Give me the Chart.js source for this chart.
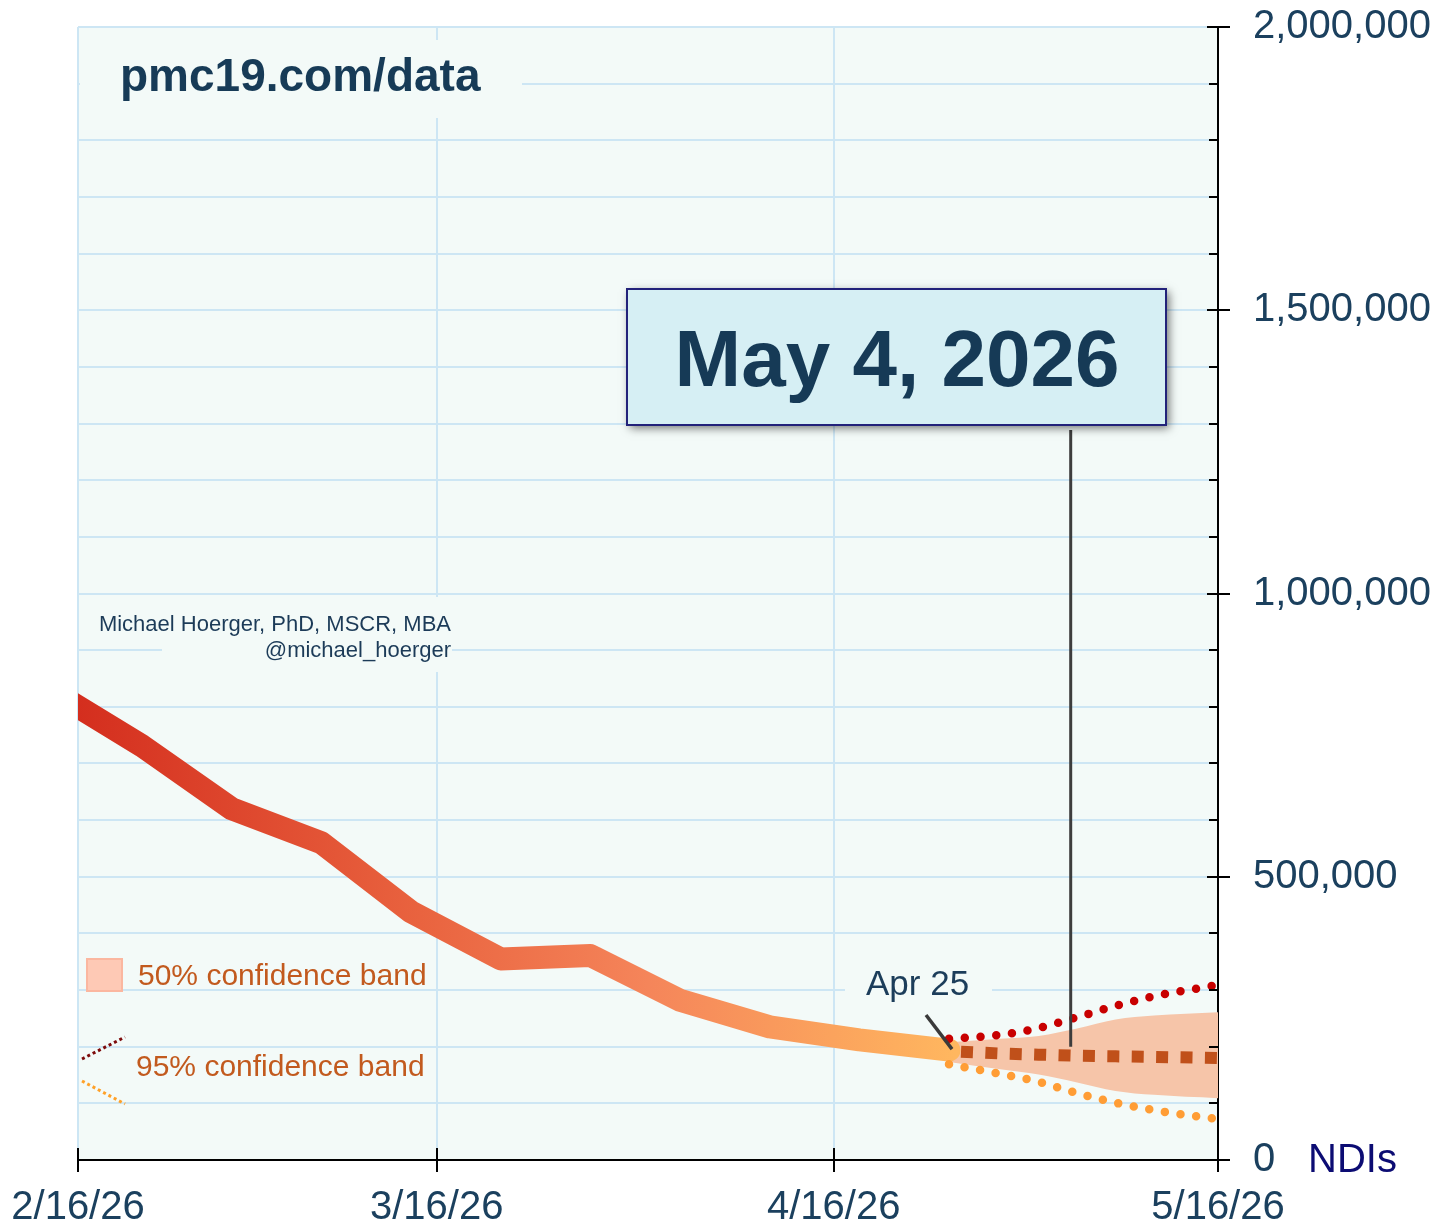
<!DOCTYPE html>
<html>
<head>
<meta charset="utf-8">
<script src="https://cdn.jsdelivr.net/npm/chart.js@4.4.1/dist/chart.umd.min.js"></script>
<style>
html,body{margin:0;padding:0;background:#ffffff;}
canvas{display:block;}
</style>
</head>
<body>
<canvas id="c" width="1452" height="1226"></canvas>
<script>
// ---------------- DATA ----------------
const startDate = '2026-02-16';
const xTickDates = ['2026-02-16', '2026-03-16', '2026-04-16', '2026-05-16'];
const yTickValues = [0, 500000, 1000000, 1500000, 2000000];

const observedDates = ['2026-02-14', '2026-02-21', '2026-02-28', '2026-03-07', '2026-03-14', '2026-03-21',
                       '2026-03-28', '2026-04-04', '2026-04-11', '2026-04-18', '2026-04-25'];
const observedValues = [828000, 731000, 620000, 560000, 438000, 355000, 361000, 282000, 235000, 212000, 194000];

const forecastDates = ['2026-04-25', '2026-04-29', '2026-05-02', '2026-05-05', '2026-05-08', '2026-05-11', '2026-05-16'];
const forecastMedian = [192000, 188000, 186000, 184000, 183000, 182000, 180000];
const band50Upper = [208000, 214000, 219000, 232000, 248000, 255000, 261000];
const band50Lower = [173000, 160000, 151000, 137000, 122000, 115000, 109000];
const band95Upper = [214000, 221000, 233000, 252000, 272000, 289000, 309000];
const band95Lower = [169000, 152000, 138000, 118000, 101000, 88000, 72000];

const highlightDate = '2026-05-04';
const highlightText = 'May 4, 2026';
const lastObservedText = 'Apr 25';
const siteText = 'pmc19.com/data';
const authorLines = ['Michael Hoerger, PhD, MSCR, MBA', '@michael_hoerger'];
const legend50Text = '50% confidence band';
const legend95Text = '95% confidence band';
const unitText = 'NDIs';

// ---------------- HELPERS ----------------
const DAY = 86400000;
const t0 = Date.parse(startDate + 'T00:00:00Z');
const dayOf = s => (Date.parse(s + 'T00:00:00Z') - t0) / DAY;
const pts = (dates, vals) => dates.map((d, i) => ({x: dayOf(d), y: vals[i]}));
const fmtDay = v => {
  const d = new Date(t0 + Math.round(v) * DAY);
  return (d.getUTCMonth() + 1) + '/' + d.getUTCDate() + '/' + String(d.getUTCFullYear()).slice(2);
};
const FONT = '"Liberation Sans", Arial, Helvetica, sans-serif';
const xTicks = xTickDates.map(dayOf);
const xMax = xTicks[xTicks.length - 1];

function mainGradient(ctx) {
  const chart = ctx.chart;
  const a = chart.chartArea;
  if (!a) return '#e8603c';
  const g = chart.ctx.createLinearGradient(a.left, 0, a.right, 0);
  g.addColorStop(0, '#d42e1e');
  g.addColorStop(0.3, '#e9633f');
  g.addColorStop(0.5, '#f5855a');
  g.addColorStop(0.77, '#ffb75f');
  g.addColorStop(1, '#ffb75f');
  return g;
}

// ---------------- DECORATION PLUGIN ----------------
const deco = {
  id: 'deco',
  beforeDraw(chart) {
    const {ctx, chartArea: a} = chart;
    ctx.save();
    ctx.fillStyle = '#f3faf8';
    ctx.fillRect(a.left, a.top, a.right - a.left, a.bottom - a.top);
    ctx.restore();
  },
  afterDatasetsDraw(chart) {
    const {ctx, chartArea: a} = chart;
    const xs = chart.scales.x, ys = chart.scales.y;
    const X = v => xs.getPixelForValue(v), Y = v => ys.getPixelForValue(v);
    ctx.save();
    // background patches behind texts (hide gridlines)
    ctx.fillStyle = '#f3faf8';
    ctx.fillRect(80, 40, 442, 78);
    ctx.fillRect(162, 597, 290, 75);
    ctx.fillRect(845, 962, 147, 48);

    // site text
    ctx.fillStyle = '#173b57';
    ctx.font = 'bold 46px ' + FONT;
    ctx.textBaseline = 'alphabetic';
    ctx.textAlign = 'left';
    ctx.fillText(siteText, 120, 91);

    // author
    ctx.font = '22px ' + FONT;
    ctx.fillStyle = '#1c3b58';
    ctx.textAlign = 'right';
    ctx.fillText(authorLines[0], 451, 631);
    ctx.fillText(authorLines[1], 451, 657);

    // legend
    ctx.fillStyle = '#fec9b5';
    ctx.strokeStyle = '#fbb7a0';
    ctx.lineWidth = 2;
    ctx.fillRect(87, 959, 35, 32);
    ctx.strokeRect(87, 959, 35, 32);
    ctx.font = '30px ' + FONT;
    ctx.fillStyle = '#c25a1e';
    ctx.textAlign = 'left';
    ctx.fillText(legend50Text, 138, 985);
    ctx.fillText(legend95Text, 136, 1076);
    ctx.lineCap = 'butt';
    ctx.lineWidth = 3;
    ctx.setLineDash([3, 3]);
    ctx.strokeStyle = '#7d0b0b';
    ctx.beginPath(); ctx.moveTo(82, 1059); ctx.lineTo(125, 1037); ctx.stroke();
    ctx.strokeStyle = '#ffa128';
    ctx.beginPath(); ctx.moveTo(82, 1081); ctx.lineTo(125, 1104); ctx.stroke();
    ctx.setLineDash([]);

    // Apr 25 label + pointer
    const lastX = X(dayOf(observedDates[observedDates.length - 1]));
    const lastY = Y(observedValues[observedValues.length - 1]);
    ctx.font = '35px ' + FONT;
    ctx.fillStyle = '#1c3d5a';
    ctx.textAlign = 'left';
    ctx.fillText(lastObservedText, 866, 995);
    ctx.strokeStyle = '#3a3a3a';
    ctx.lineWidth = 3.5;
    ctx.beginPath(); ctx.moveTo(926, 1015); ctx.lineTo(lastX + 3, lastY - 1); ctx.stroke();

    // highlight line
    const hx = X(dayOf(highlightDate) + 0.5);
    ctx.strokeStyle = '#3d3d3d';
    ctx.lineWidth = 3;
    ctx.beginPath(); ctx.moveTo(hx, 430); ctx.lineTo(hx, Y(forecastMedian[2]) - 8); ctx.stroke();

    // highlight box
    ctx.save();
    ctx.shadowColor = 'rgba(0,0,0,0.55)';
    ctx.shadowBlur = 9;
    ctx.shadowOffsetX = 3;
    ctx.shadowOffsetY = 3;
    ctx.fillStyle = '#d6eff4';
    ctx.fillRect(627, 289, 539, 136);
    ctx.restore();
    ctx.strokeStyle = '#22227a';
    ctx.lineWidth = 2;
    ctx.strokeRect(627, 289, 539, 136);
    ctx.fillStyle = '#163a56';
    ctx.font = 'bold 80px ' + FONT;
    ctx.textAlign = 'center';
    ctx.fillText(highlightText, 897, 386);
    ctx.restore();
  },
  afterDraw(chart) {
    const {ctx, chartArea: a} = chart;
    const xs = chart.scales.x, ys = chart.scales.y;
    ctx.save();
    ctx.strokeStyle = '#000';
    ctx.lineWidth = 2;
    // y ticks
    for (let v = 0; v <= 2000000; v += 100000) {
      const y = Math.round(ys.getPixelForValue(v));
      const major = yTickValues.includes(v);
      ctx.beginPath();
      ctx.moveTo(a.right - (major ? 11 : 9), y);
      ctx.lineTo(major ? a.right + 12 : a.right, y);
      ctx.stroke();
    }
    // x ticks
    xTicks.forEach(v => {
      const x = Math.round(xs.getPixelForValue(v));
      ctx.beginPath(); ctx.moveTo(x, a.bottom - 12); ctx.lineTo(x, a.bottom + 12); ctx.stroke();
    });
    // unit
    ctx.fillStyle = '#0c0c73';
    ctx.font = '40px ' + FONT;
    ctx.textBaseline = 'middle';
    ctx.textAlign = 'left';
    ctx.fillText(unitText, 1308, a.bottom + 1);
    ctx.restore();
  }
};

// ---------------- CHART ----------------
new Chart(document.getElementById('c'), {
  type: 'line',
  data: {
    datasets: [
      { data: pts(forecastDates, band95Upper), borderColor: '#c80000', borderWidth: 8.5,
        borderDash: [0, 15.8], borderCapStyle: 'round', pointRadius: 0, fill: false,
        cubicInterpolationMode: 'monotone', clip: 0 },
      { data: pts(forecastDates, band95Lower), borderColor: '#ff9d35', borderWidth: 8.5,
        borderDash: [0, 15.8], borderCapStyle: 'round', pointRadius: 0, fill: false,
        cubicInterpolationMode: 'monotone', clip: 0 },
      { data: pts(forecastDates, forecastMedian), borderColor: '#c0501a', borderWidth: 12,
        borderDash: [12, 12.4], borderDashOffset: -12, borderCapStyle: 'butt', pointRadius: 0, fill: false, clip: 0 },
      { data: pts(observedDates, observedValues), borderColor: mainGradient, borderWidth: 23,
        borderCapStyle: 'round', borderJoinStyle: 'round', pointRadius: 0, fill: false, tension: 0, clip: 0 },
      { data: pts(forecastDates, band50Upper), borderWidth: 0, borderColor: 'rgba(0,0,0,0)',
        backgroundColor: '#f6c5a9', pointRadius: 0, fill: '+1', cubicInterpolationMode: 'monotone', clip: 0 },
      { data: pts(forecastDates, band50Lower), borderWidth: 0, borderColor: 'rgba(0,0,0,0)',
        pointRadius: 0, fill: false, cubicInterpolationMode: 'monotone', clip: 0 }
    ]
  },
  options: {
    responsive: false,
    animation: false,
    devicePixelRatio: 1,
    layout: { padding: { left: 78, top: 27, right: 0, bottom: 0 } },
    plugins: { legend: { display: false }, tooltip: { enabled: false } },
    scales: {
      x: {
        type: 'linear', min: 0, max: xMax,
        afterBuildTicks: s => { s.ticks = xTicks.map(v => ({value: v})); },
        afterFit: s => { s.height = 66; s.paddingLeft = 0; s.paddingRight = 0; },
        grid: { color: '#cde6f4', lineWidth: 2, drawTicks: false },
        border: { display: true, color: '#000', width: 2 },
        ticks: { autoSkip: false, maxRotation: 0, padding: 24, color: '#1b405e',
                 font: { family: FONT, size: 40 }, callback: v => fmtDay(v) }
      },
      y: {
        position: 'right', min: 0, max: 2000000,
        afterFit: s => { s.width = 234; s.paddingTop = 0; s.paddingBottom = 0; },
        grid: { color: '#cde6f4', lineWidth: 2, drawTicks: false },
        border: { display: true, color: '#000', width: 2 },
        ticks: { stepSize: 100000, autoSkip: false, padding: 35, color: '#1b405e',
                 font: { family: FONT, size: 40 },
                 callback: v => yTickValues.includes(v) ? v.toLocaleString('en-US') : '' }
      }
    }
  },
  plugins: [deco]
});
</script>
</body>
</html>
